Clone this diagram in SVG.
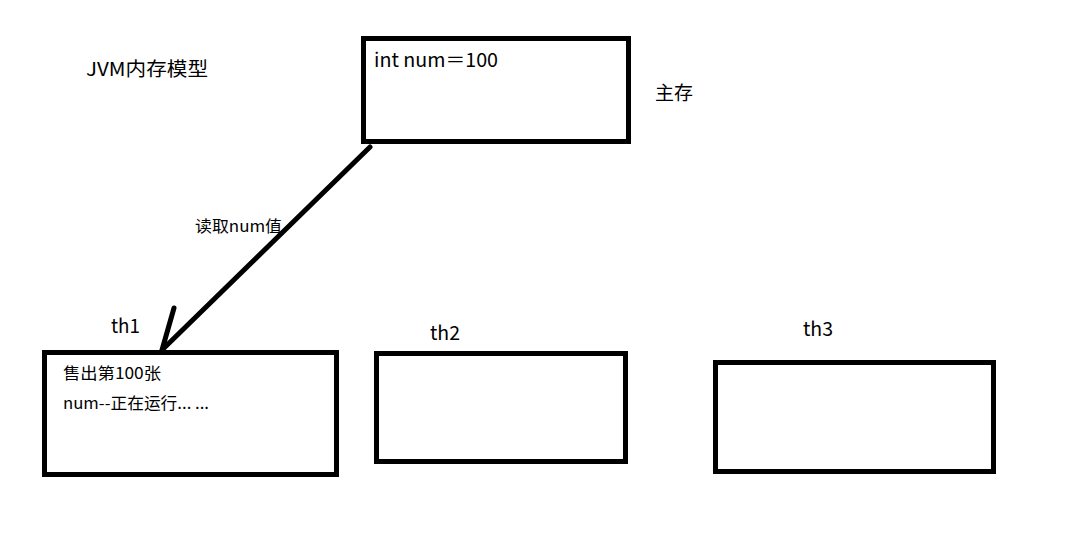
<svg xmlns="http://www.w3.org/2000/svg" width="1069" height="553" viewBox="0 0 1069 553">
<style>
.box{fill:none;stroke:#000;stroke-width:5}
.t{font-family:"Noto Sans CJK SC","Noto Sans",sans-serif;fill:#000}
.l{font-size:19px}
.s{font-size:16px}
.c{stroke:#000;stroke-width:5;stroke-linecap:round;fill:none}
</style>
<rect width="1069" height="553" fill="#fff"/>
<text class="t l" x="86" y="76" textLength="122" lengthAdjust="spacingAndGlyphs">JVM内存模型</text>
<g id="main">
<rect class="box" x="363.5" y="38.5" width="265" height="103"/>
<text class="t l" x="374" y="67" textLength="124" lengthAdjust="spacingAndGlyphs">int num＝100</text>
</g>
<text class="t l" x="655" y="100" textLength="38" lengthAdjust="spacingAndGlyphs">主存</text>
<g id="th1">
<rect class="box" x="44.5" y="352.5" width="292" height="122"/>
<text class="t l" x="111" y="333" textLength="29" lengthAdjust="spacingAndGlyphs">th1</text>
<text class="t s" x="63" y="379" textLength="98" lengthAdjust="spacingAndGlyphs">售出第100张</text>
<text class="t s" x="63" y="409" textLength="146" lengthAdjust="spacingAndGlyphs">num--正在运行... ...</text>
</g>
<g id="th2">
<rect class="box" x="376.5" y="353.5" width="249" height="108"/>
<text class="t l" x="430" y="340" textLength="30" lengthAdjust="spacingAndGlyphs">th2</text>
</g>
<g id="th3">
<rect class="box" x="715.5" y="362.5" width="278" height="109"/>
<text class="t l" x="803" y="336" textLength="30" lengthAdjust="spacingAndGlyphs">th3</text>
</g>
<g id="connectors">
<path class="c" d="M370,147 L162,350 M174,308 L162,350"/>
<text class="t s" x="195" y="232" textLength="87" lengthAdjust="spacingAndGlyphs">读取num值</text>
</g>
</svg>
